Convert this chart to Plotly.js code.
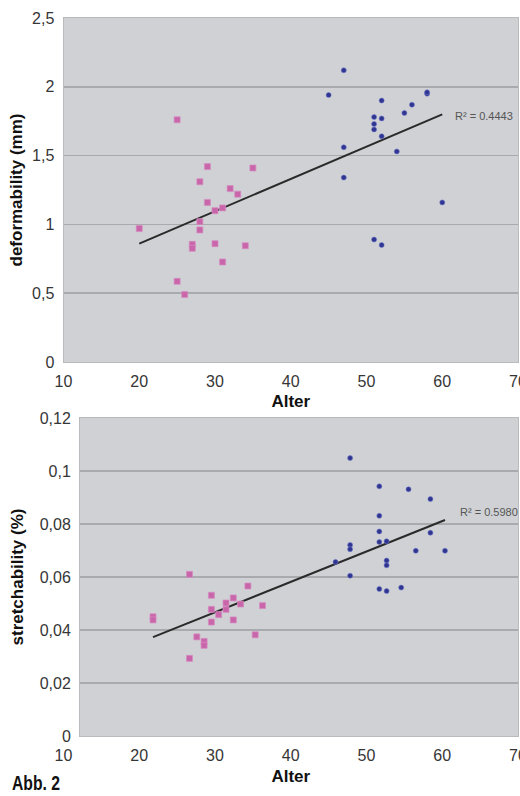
<!DOCTYPE html>
<html>
<head>
<meta charset="utf-8">
<script src="https://cdn.plot.ly/plotly-3.0.1.min.js"></script>
<style>html,body{margin:0;padding:0;background:#fff;}#chart{width:520px;height:796px;}</style>
</head>
<body>
<div id="chart"></div>
<script>
// ---- data ----
const ageTicks = [10, 20, 30, 40, 50, 60, 70];
const ageTickText = ['10', '20', '30', '40', '50', '60', '70'];
const defTicks = [0, 0.5, 1, 1.5, 2, 2.5];
const defTickText = ['0', '0,5', '1', '1,5', '2', '2,5'];
const strTicks = [0, 0.02, 0.04, 0.06, 0.08, 0.1, 0.12];
const strTickText = ['0', '0,02', '0,04', '0,06', '0,08', '0,1', '0,12'];

// deformability (mm) — young (pink) and old (blue)
const defYoungAge = [25, 29, 35, 28, 32, 33, 29, 30, 31, 20, 28, 28, 27, 27, 30, 34, 31, 25, 26];
const defYoungVal = [1.76, 1.42, 1.41, 1.31, 1.26, 1.22, 1.16, 1.10, 1.12, 0.97, 1.02, 0.96, 0.855, 0.826, 0.86, 0.845, 0.727, 0.586, 0.49];
const defOldAge = [47, 45, 58, 58, 52, 56, 55, 51, 52, 51, 51, 52, 47, 54, 47, 60, 51, 52];
const defOldVal = [2.12, 1.94, 1.95, 1.96, 1.90, 1.87, 1.81, 1.78, 1.77, 1.73, 1.69, 1.64, 1.56, 1.53, 1.34, 1.16, 0.89, 0.85];

// stretchability (%) — young (pink) and old (blue)
const strYoungAge = [25, 33, 28, 31, 30, 32, 35, 28, 30, 29, 20, 20, 28, 31, 26, 27, 27, 34, 25];
const strYoungVal = [0.0610, 0.0566, 0.0531, 0.0521, 0.0502, 0.0498, 0.0492, 0.0478, 0.0478, 0.0458, 0.0450, 0.0438, 0.0430, 0.0438, 0.0374, 0.0357, 0.0342, 0.0382, 0.0293];
const strOldAge = [47, 51, 55, 58, 51, 51, 58, 51, 52, 47, 47, 56, 60, 45, 52, 52, 47, 51, 52, 54];
const strOldVal = [0.1049, 0.0942, 0.0931, 0.0894, 0.0831, 0.0772, 0.0767, 0.0732, 0.0735, 0.0721, 0.0705, 0.0699, 0.0699, 0.0657, 0.0662, 0.0644, 0.0605, 0.0555, 0.0547, 0.0560];

const r2Labels = ['R² = 0.4443', 'R² = 0.5980'];
const figLabel = 'Abb. 2';

// ---- linear trend (least squares over all points) ----
function fit(xs, ys) {
  const n = xs.length;
  let sx = 0, sy = 0, sxx = 0, sxy = 0;
  for (let i = 0; i < n; i++) { sx += xs[i]; sy += ys[i]; sxx += xs[i] * xs[i]; sxy += xs[i] * ys[i]; }
  const b = (n * sxy - sx * sy) / (n * sxx - sx * sx);
  const a = (sy - b * sx) / n;
  const x0 = Math.min.apply(null, xs), x1 = Math.max.apply(null, xs);
  return { x: [x0, x1], y: [a + b * x0, a + b * x1] };
}
const defFit = fit(defYoungAge.concat(defOldAge), defYoungVal.concat(defOldVal));
const strFit = fit(strYoungAge.concat(strOldAge), strYoungVal.concat(strOldVal));

const pink = { symbol: 'square', size: 6, color: '#c966aa', line: { width: 1, color: 'rgba(215,140,195,0.7)' } };
const blue = { symbol: 'circle', size: 5, color: '#2f3590', line: { width: 1, color: 'rgba(110,120,200,0.55)' } };
const trendLine = { color: '#2a2a2a', width: 2 };

const traces = [
  { type: 'scatter', mode: 'lines', x: defFit.x, y: defFit.y, line: trendLine, xaxis: 'x', yaxis: 'y', hoverinfo: 'skip' },
  { type: 'scatter', mode: 'markers', x: defYoungAge, y: defYoungVal, marker: pink, xaxis: 'x', yaxis: 'y' },
  { type: 'scatter', mode: 'markers', x: defOldAge, y: defOldVal, marker: blue, xaxis: 'x', yaxis: 'y' },
  { type: 'scatter', mode: 'lines', x: strFit.x, y: strFit.y, line: trendLine, xaxis: 'x2', yaxis: 'y2', hoverinfo: 'skip' },
  { type: 'scatter', mode: 'markers', x: strYoungAge, y: strYoungVal, marker: pink, xaxis: 'x2', yaxis: 'y2' },
  { type: 'scatter', mode: 'markers', x: strOldAge, y: strOldVal, marker: blue, xaxis: 'x2', yaxis: 'y2' },
  // label-only axis for the lower chart (its labels sit where the upper chart's do)
  { type: 'scatter', mode: 'markers', x: [], y: [], xaxis: 'x3', yaxis: 'y3', hoverinfo: 'skip' }
];

const W = 520, H = 796;
const px = v => v / W;
const py = v => (H - v) / H;

const tickFont = { family: 'Liberation Sans, Arial, sans-serif', size: 16, color: '#363636' };
const titleFont = { family: 'Liberation Sans, Arial, sans-serif', size: 17, color: '#111111', weight: 'bold' };
const frame = { showline: true, mirror: true, linecolor: '#b9bbbe', linewidth: 1, zeroline: false, fixedrange: true };
const hiddenTicks = { ticks: 'outside', ticklen: 5, tickcolor: 'rgba(0,0,0,0)' };
const bg = '#cfd1d4';
const grid = '#a8aaad';

const layout = {
  width: W, height: H,
  margin: { l: 0, r: 0, t: 0, b: 0 },
  paper_bgcolor: '#ffffff',
  plot_bgcolor: 'rgba(0,0,0,0)',
  showlegend: false,
  hovermode: false,
  font: { family: 'Liberation Sans, Arial, sans-serif', color: '#333' },
  xaxis: Object.assign({}, frame, hiddenTicks, {
    domain: [px(63.5), px(518)], range: [10, 70], anchor: 'y',
    tickvals: ageTicks, ticktext: ageTickText, tickfont: tickFont, showgrid: false,
    ticklabeloverflow: 'allow',
    title: { text: 'Alter', font: titleFont, standoff: 5 }
  }),
  yaxis: Object.assign({}, frame, hiddenTicks, {
    domain: [py(362), py(18)], range: [0, 2.5], anchor: 'x',
    tickvals: defTicks, ticktext: defTickText, tickfont: tickFont,
    showgrid: true, gridcolor: grid, gridwidth: 1.5,
    title: { text: 'deformability (mm)', font: titleFont, standoff: 5 }
  }),
  xaxis2: Object.assign({}, frame, {
    domain: [px(80), px(518)], range: [10, 70], anchor: 'y2',
    showticklabels: false, showgrid: false, ticks: ''
  }),
  yaxis2: Object.assign({}, frame, hiddenTicks, {
    domain: [py(736), py(418)], range: [0, 0.12], anchor: 'x2',
    tickvals: strTicks, ticktext: strTickText, tickfont: tickFont,
    showgrid: true, gridcolor: grid, gridwidth: 1.5,
    title: { text: 'stretchability (%)', font: titleFont, standoff: 11 }
  }),
  xaxis3: Object.assign({}, hiddenTicks, {
    domain: [px(63.5), px(518)], range: [10, 70], anchor: 'y3',
    tickvals: ageTicks, ticktext: ageTickText, tickfont: tickFont,
    showgrid: false, showline: false, zeroline: false, fixedrange: true,
    ticklabeloverflow: 'allow',
    title: { text: 'Alter', font: titleFont, standoff: 6 }
  }),
  yaxis3: { domain: [py(736), py(418)], range: [0, 1], anchor: 'x3', visible: false, fixedrange: true },
  shapes: [
    { type: 'rect', xref: 'x domain', yref: 'y domain', x0: 0, x1: 1, y0: 0, y1: 1, fillcolor: bg, line: { width: 0 }, layer: 'below' },
    { type: 'rect', xref: 'x2 domain', yref: 'y2 domain', x0: 0, x1: 1, y0: 0, y1: 1, fillcolor: bg, line: { width: 0 }, layer: 'below' }
  ],
  annotations: [
    { xref: 'paper', yref: 'paper', x: px(453), y: py(115.7), xanchor: 'left', yanchor: 'middle', text: r2Labels[0], showarrow: false, font: { family: 'Liberation Sans, Arial, sans-serif', size: 11, color: '#555' } },
    { xref: 'paper', yref: 'paper', x: px(458), y: py(512.3), xanchor: 'left', yanchor: 'middle', text: r2Labels[1], showarrow: false, font: { family: 'Liberation Sans, Arial, sans-serif', size: 11, color: '#555' } },
    { xref: 'paper', yref: 'paper', x: px(10), y: py(783), xanchor: 'left', yanchor: 'middle', text: figLabel, showarrow: false, font: { family: 'Liberation Sans Narrow, Liberation Sans, Arial, sans-serif', size: 20, color: '#111', weight: 'bold' } }
  ]
};

Plotly.newPlot('chart', traces, layout, { staticPlot: true, displayModeBar: false }).then(function (gd) {
  // the printed figure label uses a condensed bold face: squeeze it to its printed width
  gd.querySelectorAll('.annotation-text').forEach(function (t) {
    if (t.textContent === figLabel) {
      const w = t.getComputedTextLength();
      const target = 48;
      if (w > target) {
        t.setAttribute('textLength', target);
        t.setAttribute('lengthAdjust', 'spacingAndGlyphs');
        const anchor = t.getAttribute('text-anchor') || 'start';
        const x = parseFloat(t.getAttribute('x') || '0');
        if (anchor === 'middle') t.setAttribute('x', x - (w - target) / 2);
        else if (anchor === 'end') t.setAttribute('x', x - (w - target));
      }
    }
  });
});
</script>
</body>
</html>
